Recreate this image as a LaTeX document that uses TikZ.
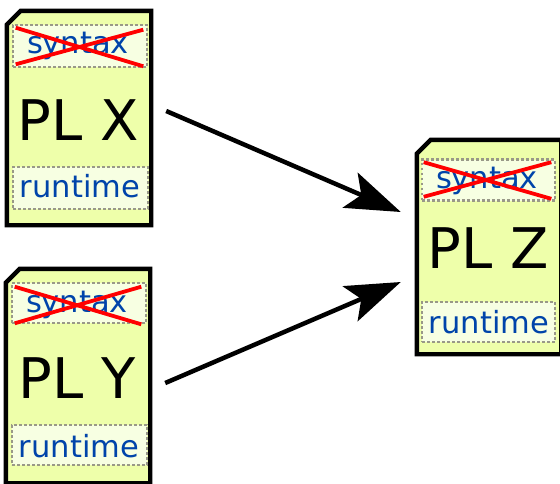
\documentclass[tikz,border=0pt]{standalone}
\usepackage{fontspec}
\setmainfont{DejaVu Sans}
\usetikzlibrary{arrows.meta}
\definecolor{cardfill}{HTML}{EEFFAA}
\definecolor{slotfill}{HTML}{F7FFE2}
\definecolor{slotline}{HTML}{999988}
\definecolor{labelblue}{HTML}{0044AA}
\tikzset{
  card/.style={rectangle, draw=none, inner sep=0pt, minimum width=144pt, minimum height=214pt},
  cardline/.style={draw=black, line width=4.4pt, fill=cardfill, line join=miter},
  slot/.style={rectangle, draw=slotline, fill=slotfill, line width=2.6pt,
    dash pattern=on 2.6pt off 2.4pt, inner sep=0pt, minimum height=42pt},
  small/.style={text=labelblue, inner sep=0pt, anchor=base, font=\fontsize{30.5}{36}\selectfont},
  big/.style={text=black, inner sep=0pt, anchor=base, font=\fontsize{56}{66}\selectfont},
  strike/.style={draw=red, line width=3.8pt},
  flow/.style={draw=black, line width=4.5pt, -{Stealth[length=55pt, width=38pt, inset=12pt]}}
}
\newcommand\cardoutline[1]{%
  \path[cardline] (#1.south west) -- ([yshift=-14pt]#1.north west)
    -- ([xshift=14pt]#1.north west) -- (#1.north east) -- (#1.south east) -- cycle;}
\begin{document}
\begin{tikzpicture}[x=1pt, y=-1pt]
  \useasboundingbox (0,0) rectangle (560,483);
  \clip (0,0) rectangle (560,483);

  % language cards
  \node[card] (X) at (79,118) {};
  \node[card] (Y) at (78,376) {};
  \node[card] (Z) at (489,247) {};
  \cardoutline{X}
  \cardoutline{Y}
  \cardoutline{Z}

  % card X
  \node[slot, minimum width=134pt] (Xs) at (80,46) {};
  \node[small] (Xst) at (78,53) {syntax};
  \draw[strike] ([shift={(4,4)}]Xs.north west) -- ([shift={(-5,-2)}]Xs.south east);
  \draw[strike] ([shift={(4,-4)}]Xs.south west) -- ([shift={(-5,6)}]Xs.north east);
  \node[big] (Xn) at (78,140) {PL X};
  \node[slot, minimum width=135pt] (Xr) at (80.5,188) {};
  \node[small] (Xrt) at (80,197) {runtime};

  % card Y
  \node[slot, minimum width=134pt, minimum height=40pt] (Ys) at (79,303) {};
  \node[small] (Yst) at (77,312) {syntax};
  \draw[strike] ([shift={(4,5)}]Ys.north west) -- ([shift={(-6,0)}]Ys.south east);
  \draw[strike] ([shift={(4,-1)}]Ys.south west) -- ([shift={(-6,5)}]Ys.north east);
  \node[big] (Yn) at (77,398) {PL Y};
  \node[slot, minimum width=135pt, minimum height=40pt] (Yr) at (79.5,445) {};
  \node[small] (Yrt) at (79,457) {runtime};

  % card Z
  \node[slot, minimum width=133pt, minimum height=41pt] (Zs) at (488.5,180) {};
  \node[small] (Zst) at (487,188) {syntax};
  \draw[strike] ([shift={(3,4)}]Zs.north west) -- ([shift={(-5,-3)}]Zs.south east);
  \draw[strike] ([shift={(3,-5)}]Zs.south west) -- ([shift={(-5,4)}]Zs.north east);
  \node[big] (Zn) at (488,268) {PL Z};
  \node[slot, minimum width=133pt, minimum height=40pt] (Zr) at (488.5,322) {};
  \node[small] (Zrt) at (489,333) {runtime};

  % translations into Z
  \draw[flow] ([xshift=15pt, yshift=7pt]X.east) -- ([xshift=-16pt, yshift=35pt]Z.west);
  \draw[flow] ([xshift=15pt, yshift=-7pt]Y.east) -- ([xshift=-16pt, yshift=-35pt]Z.west);
\end{tikzpicture}
\end{document}
